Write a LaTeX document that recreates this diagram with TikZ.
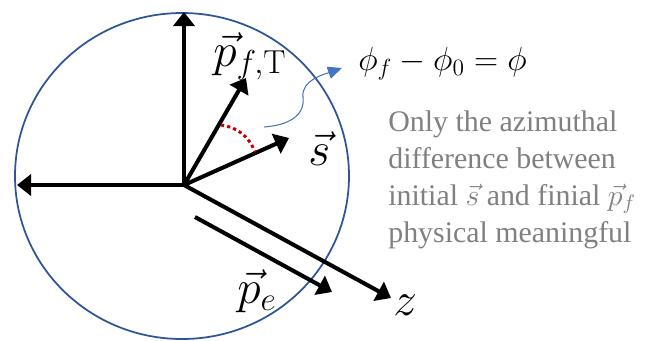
\RequirePackage{fix-cm}
\documentclass[tikz,border=0pt]{standalone}
\usepackage{fontspec}
\usepackage{tikz}
\usepackage{xcolor}
\usetikzlibrary{arrows.meta}
\newfontfamily\notefont{Liberation Serif}
\definecolor{ringblue}{HTML}{2F5597}
\definecolor{hintblue}{HTML}{4472C4}
\definecolor{angred}{HTML}{C00000}

\begin{document}
\begin{tikzpicture}[
  axis/.style = {line width=2.3pt, -{Triangle[length=8pt, width=12pt]}},
  ring/.style = {draw=ringblue, line width=1pt},
  phiarc/.style = {draw=angred, line width=1.7pt, dash pattern=on 1.8pt off 1.8pt},
  hint/.style = {draw=hintblue, line width=0.6pt, -{Triangle[length=8pt, width=7pt]}},
  veclabel/.style = {inner sep=0pt, font=\fontsize{27}{32}\selectfont},
  eqtext/.style = {inner sep=0pt, font=\fontsize{19}{23}\selectfont},
  note/.style = {inner sep=0pt, align=left, text=black!50, font=\notefont\fontsize{17}{21}\selectfont}
]
  \useasboundingbox (-3.68,-3.10) rectangle (9.46,3.70);

  \draw[ring] (-0.04,0.18) ellipse [x radius=3.34cm, y radius=3.26cm];

  \coordinate (o) at (0,0);
  \coordinate (up) at (0,3.46);
  \coordinate (left) at (-3.34,0);
  \coordinate (pf) at (1.24,2.14);
  \coordinate (s) at (2.10,0.94);
  \coordinate (z) at (4.14,-2.26);
  \coordinate (pe0) at (0.22,-0.64);
  \coordinate (pe1) at (2.96,-2.14);
  \coordinate (a1) at (0.74,1.20);
  \coordinate (a2) at (1.42,0.66);
  \coordinate (hint0) at (1.60,1.16);
  \coordinate (hint1) at (3.16,2.34);

  \draw[axis] (o) -- (up);
  \draw[axis] (o) -- (left);
  \draw[axis] (o) -- (pf);
  \draw[axis] (o) -- (s);
  \draw[axis] (o) -- (z);
  \draw[axis] (pe0) -- (pe1);

  \draw[phiarc] (a1) to[bend left=30] (a2);

  \node[veclabel, anchor=base west] (pflabel) at (0.58,2.38) {$\vec{p}_{f,\mathrm{T}}$};
  \node[veclabel, anchor=base west] (slabel) at (2.48,0.40) {$\vec{s}$};
  \node[veclabel, anchor=base west] (pelabel) at (1.06,-2.36) {$\vec{p}_e$};
  \node[veclabel, anchor=base west] (zlabel) at (4.18,-2.60) {$z$};

  \node[eqtext, anchor=base west] (eq) at (3.48,2.30) {$\phi_f-\phi_0=\phi$};
  \draw[hint] (hint0) .. controls (2.12,1.20) and (2.42,1.40) .. (2.38,1.76)
    .. controls (2.34,2.10) and (2.82,2.22) .. (hint1);

  \node[note, anchor=base west] (note) at (4.08,-1.14) {Only the azimuthal\\difference between\\initial $\vec{s}$ and finial $\vec{p}_f$\\physical meaningful};
\end{tikzpicture}
\end{document}
